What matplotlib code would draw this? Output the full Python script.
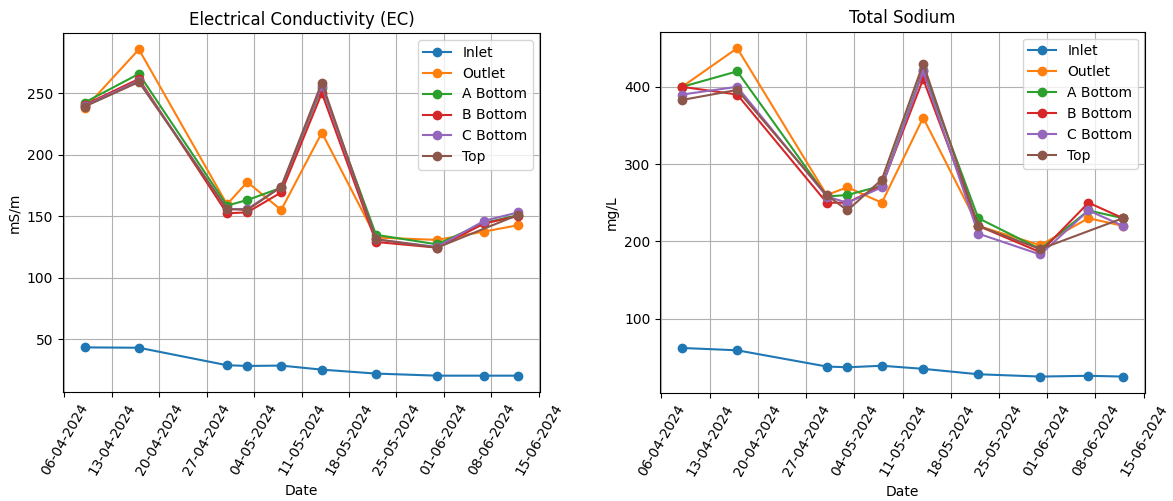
import numpy as np
import pandas as pd
import matplotlib.pyplot as plt
import matplotlib.dates as mdates

dates = pd.to_datetime(['2024-04-09', '2024-04-17', '2024-04-30', '2024-05-03', '2024-05-08',
                        '2024-05-14', '2024-05-22', '2024-05-31', '2024-06-07', '2024-06-12'])

series = ['Inlet', 'Outlet', 'A Bottom', 'B Bottom', 'C Bottom', 'Top']

# EC in mS/m
ec_inlet   = [43.2, 42.9, 28.7, 28.1, 28.4, 25.1, 21.9, 20.2, 20.2, 20.2]
ec_outlet  = [237.5, 285.5, 159.5, 177.6, 154.9, 217.8, 132.5, 130.6, 137.4, 142.6]
ec_abottom = [242.3, 265.6, 158.5, 163.0, 173.0, 254.5, 134.7, 127.0, 144.5, 150.8]
ec_bbottom = [240.4, 261.5, 152.2, 153.0, 169.2, 250.0, 128.9, 124.3, 144.0, 150.0]
ec_cbottom = [239.6, 260.0, 155.7, 155.7, 173.5, 256.0, 131.0, 124.9, 146.2, 153.0]
ec_top     = [239.0, 259.0, 155.7, 154.9, 173.8, 258.5, 131.1, 124.3, np.nan, 151.0]

# sodium in mg/L
na_inlet   = [62, 59, 38, 37, 39, 35, 28, 25, 26, 25]
na_outlet  = [400, 450, 260, 270, 250, 360, 220, 195, 230, 220]
na_abottom = [400, 420, 258, 260, 272, 422, 230, 190, 240, 230]
na_bbottom = [400, 390, 250, 250, 272, 410, 220, 186, 250, 230]
na_cbottom = [390, 400, 258, 250, 270, 420, 210, 183, 240, 220]
na_top     = [383, 396, 260, 240, 280, 430, 220, 190, np.nan, 230]

ec = [ec_inlet, ec_outlet, ec_abottom, ec_bbottom, ec_cbottom, ec_top]
na = [na_inlet, na_outlet, na_abottom, na_bbottom, na_cbottom, na_top]

fig = plt.figure(figsize=(11.73, 5.01), dpi=100)
ax1 = fig.add_axes([0.0537, 0.2176, 0.4067, 0.7164])
ax2 = fig.add_axes([0.5627, 0.2156, 0.4134, 0.7210])

for ax, vals, title, unit in [(ax1, ec, 'Electrical Conductivity (EC)', 'mS/m'),
                              (ax2, na, 'Total Sodium', 'mg/L')]:
    for name, v in zip(series, vals):
        s = pd.Series(v, index=dates).dropna()
        ax.plot(s.index, s.values, marker='o', label=name)
    ax.set_title(title)
    ax.set_xlabel('Date')
    ax.set_ylabel(unit)
    ax.xaxis.set_major_locator(mdates.WeekdayLocator(byweekday=mdates.SA))
    ax.xaxis.set_major_formatter(mdates.DateFormatter('%d-%m-%Y'))
    ax.tick_params(axis='x', labelrotation=60)
    ax.grid(True)
    ax.legend(loc='upper right')

fig.savefig('out.png', dpi=100)
